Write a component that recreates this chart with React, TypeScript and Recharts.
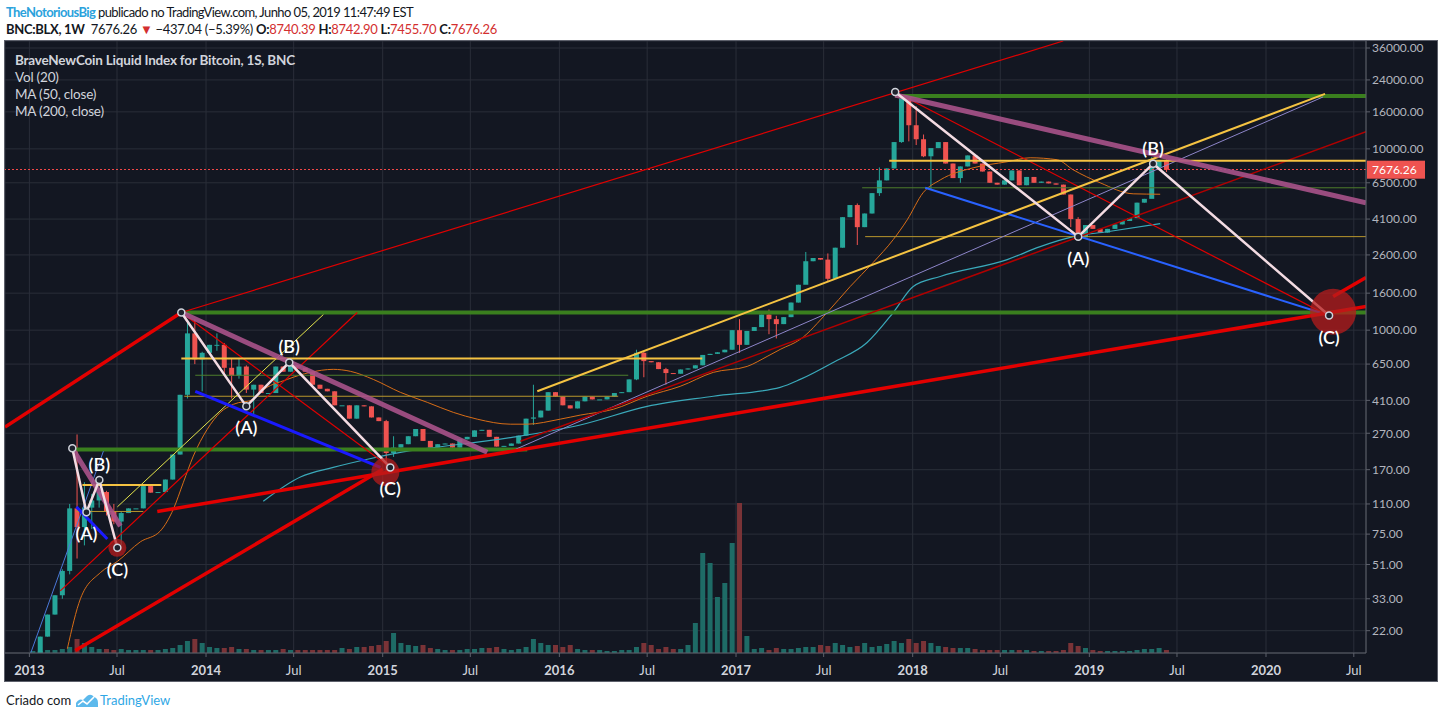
import React from "react";
import {
  ComposedChart,
  Bar,
  Line,
  XAxis,
  YAxis,
  CartesianGrid,
  ReferenceLine,
  ReferenceDot,
} from "recharts";

// BNC:BLX, two candles per month (1st and 16th)
const firstOpen = 13.5;
const close2013 = [15, 20.4, 27, 34.5, 47, 104, 82, 105, 115, 128, 100, 88, 98, 104, 104, 138, 127, 128, 150, 206, 440, 960, 690, 750];
const close2014 = [830, 830, 620, 560, 630, 470, 500, 450, 450, 630, 590, 640, 620, 590, 500, 475, 460, 385, 385, 325, 385, 380, 330, 315];
const close2015 = [210, 225, 235, 260, 285, 245, 225, 235, 237, 225, 250, 258, 280, 282, 258, 228, 230, 237, 262, 325, 330, 360, 455, 430];
const close2016 = [385, 370, 405, 430, 415, 415, 430, 450, 455, 535, 750, 675, 665, 610, 580, 575, 607, 615, 640, 730, 740, 755, 780, 1000];
const close2017 = [830, 990, 1040, 1220, 1150, 1080, 1180, 1420, 1780, 2400, 2500, 2450, 1920, 2850, 4200, 4900, 3700, 4400, 5700, 6700, 7800, 10900, 19000, 13500];
const close2018 = [11300, 9100, 10100, 10900, 8300, 6900, 8000, 9200, 8300, 7500, 6500, 6350, 6700, 7600, 6300, 7000, 6500, 6600, 6450, 6350, 5600, 4100, 3250, 3800];
const close2019 = [3620, 3450, 3620, 3830, 4000, 4150, 5050, 5300, 7900, 8600, 7676.26];

// [candle index, low, high] for the wicks that stick out
const wicks = [
  [4, 33, 48], [5, 45, 110], [6, 55, 266], [7, 65, 145], [8, 80, 125], [9, 105, 135], [10, 95, 130],
  [11, 85, 110], [12, 65, 100], [21, 420, 1100], [22, 650, 1150], [23, 460, 760],
  [25, 770, 960], [26, 560, 850], [27, 420, 700], [28, 540, 700], [29, 450, 640], [30, 340, 500],
  [48, 165, 320], [49, 200, 260], [68, 300, 500],
  [82, 530, 780], [83, 550, 760], [86, 500, 620],
  [96, 750, 1150], [100, 950, 1300], [101, 900, 1200], [105, 1800, 2700], [108, 1850, 2650],
  [112, 2950, 5000], [115, 5500, 7900], [118, 10800, 19800], [119, 11000, 19000],
  [120, 10500, 17200], [121, 9000, 12000], [122, 6000, 9500], [126, 6500, 8000],
  [141, 3700, 5600], [142, 3150, 4200], [152, 7400, 9000], [154, 7455.7, 8742.9],
];

const vol2013 = [1, 1, 1.5, 1.5, 2, 3, 7, 5, 3, 2, 2, 1.5, 2, 1.5, 1.5, 1.5, 1.5, 1.5, 2, 2.5, 4, 6, 7, 5];
const vol2014 = [3, 2.5, 2.5, 3, 2, 2, 1.5, 1.5, 1.5, 1.5, 2, 1.5, 1.5, 1.5, 1.5, 1.5, 1.5, 1.5, 2.5, 2, 3, 3, 3.5, 4];
const vol2015 = [6, 10, 5, 4, 3.5, 4, 2.5, 2, 1.5, 1.5, 1.5, 2, 2, 2.5, 2.5, 3, 2, 1.5, 2, 3, 7, 5, 4, 4];
const vol2016 = [3, 4, 2, 1.5, 1.5, 1.5, 1, 1, 1.5, 1.5, 3, 5, 4, 2, 3, 2, 2, 4, 15, 50, 45, 28, 35, 55];
const vol2017 = [75, 8.5, 2, 2.5, 1.5, 2.5, 2, 2, 2.5, 3, 3, 4, 3.5, 5, 4, 3, 3.5, 5, 3, 3.5, 4.5, 6, 5, 7];
const vol2018 = [5, 6, 5, 3.5, 3, 2.5, 2.5, 2.5, 2, 1.5, 1.5, 1.5, 1.5, 1.5, 1.5, 1.5, 1, 1, 1, 1, 1.5, 5, 3.5, 2.5];
const vol2019 = [1.5, 1, 1, 1, 1, 1, 1.5, 2, 2, 2.5, 1.5];

const closes = [...close2013, ...close2014, ...close2015, ...close2016, ...close2017, ...close2018, ...close2019];
const volumes = [...vol2013, ...vol2014, ...vol2015, ...vol2016, ...vol2017, ...vol2018, ...vol2019];

const candles = closes.map((c, i) => {
  const open = i === 0 ? firstOpen : closes[i - 1];
  const body = [Math.min(open, c), Math.max(open, c)];
  const w = wicks.find((k) => k[0] === i);
  return {
    t: 2013 + Math.floor(i / 24) + ((i % 24) + 0.5) / 24,
    open,
    close: c,
    body,
    wick: w ? [w[1], w[2]] : body,
    up: c >= open,
    vol: volumes[i],
  };
});
const lastClose = closes[closes.length - 1];

const T_MIN = 2012.862;
const T_MAX = 2020.566;
const P_MIN = 16.57;
const P_MAX = 39350;

const priceTicks = [22, 33, 51, 75, 110, 170, 270, 410, 650, 1000, 1600, 2600, 4100, 6500, 10000, 16000, 24000, 36000];
const timeTicks = [2013, 2013.496, 2014, 2014.496, 2015, 2015.496, 2016, 2016.497, 2017, 2017.496, 2018, 2018.496, 2019, 2019.496, 2020, 2020.497];

// moving averages (t, price)
const ma50 = [
  [2013.215, 17.5], [2013.289, 33], [2013.402, 46], [2013.498, 53], [2013.628, 68], [2013.741, 78],
  [2013.815, 103], [2013.872, 145], [2013.928, 202], [2014.007, 284], [2014.081, 352], [2014.155, 390],
  [2014.268, 415], [2014.307, 454], [2014.46, 535], [2014.59, 585], [2014.72, 608], [2014.817, 593],
  [2014.947, 535], [2015.1, 454], [2015.252, 400], [2015.4, 352], [2015.535, 323], [2015.722, 303],
  [2015.818, 303], [2016.005, 323], [2016.118, 340], [2016.305, 366], [2016.497, 432], [2016.684, 490],
  [2016.871, 585], [2017.063, 631], [2017.176, 716], [2017.25, 783], [2017.363, 889], [2017.516, 1251],
  [2017.646, 1740], [2017.776, 2360], [2017.89, 3160], [2017.969, 4060], [2018.059, 5730], [2018.156, 6740],
  [2018.342, 7860], [2018.535, 8490], [2018.665, 8930], [2018.818, 8710], [2018.908, 7670], [2019.061, 6500],
  [2019.248, 5650], [2019.401, 5620],
].map(([t, p]) => ({ t, p }));

const ma200 = [
  [2014.324, 114], [2014.534, 155], [2014.72, 175], [2014.913, 194], [2015.1, 212], [2015.213, 220],
  [2015.739, 257], [2016.118, 300], [2016.497, 380], [2016.871, 432], [2017.25, 484], [2017.363, 535],
  [2017.55, 664], [2017.742, 855], [2017.89, 1251], [2018.003, 1740], [2018.156, 1978], [2018.535, 2450],
  [2018.722, 2890], [2018.908, 3280], [2019.101, 3490], [2019.401, 3870],
].map(([t, p]) => ({ t, p }));

// ABC waves
const wave2013 = [[2013.243, 223], [2013.323, 99], [2013.396, 149], [2013.498, 63]].map(([t, p]) => ({ t, p }));
const wave2014 = [[2013.86, 1251], [2014.228, 380], [2014.471, 664], [2015.043, 175]].map(([t, p]) => ({ t, p }));
const wave2018 = [[2017.901, 20600], [2018.937, 3280], [2019.361, 8280], [2020.357, 1204]].map(([t, p]) => ({ t, p }));
const waveNames = ["(A)", "(B)", "(C)"];

const targets = [
  { t: 2013.498, p: 63, r: 9 },
  { t: 2015.015, p: 165, r: 14 },
  { t: 2020.38, p: 1265, r: 23 },
];

// trend lines [t1, p1, t2, p2]
const redThick = [
  [2012.862, 292, 2013.86, 1251],
  [2013.26, 17.1, 2015.0, 171],
  [2013.724, 100, 2020.566, 1352],
  [2020.38, 1535, 2020.566, 1950],
];
const redThin = [
  [2013.86, 1251, 2018.852, 39350],
  [2013.175, 36.5, 2014.856, 1251],
  [2013.86, 1251, 2015.043, 175],
  [2017.901, 20600, 2020.363, 1189],
];
const darkRed = [[2015.779, 244, 2020.566, 12420]];
const lavender = [[2015.751, 220, 2020.323, 19340]];
const greenThick = [
  [2013.86, 1251, 2020.566, 1251],
  [2013.243, 220, 2015.818, 220],
  [2017.901, 19590, 2020.566, 19590],
];
const greenThin = [
  [2013.939, 564, 2016.39, 564],
  [2017.714, 6100, 2020.566, 6100],
];
const yellowThick = [
  [2013.86, 698, 2016.809, 698],
  [2017.867, 8590, 2020.566, 8590],
  [2013.3, 140, 2013.747, 140],
  [2015.875, 460, 2020.334, 20100],
];
const oliveThin = [
  [2013.266, 100, 2013.645, 100],
  [2013.877, 432, 2016.333, 432],
  [2017.731, 3280, 2020.566, 3280],
];
const yellowThin = [[2013.498, 106, 2014.664, 1219]];
const mauve = [
  [2013.86, 1251, 2015.592, 212],
  [2013.243, 223, 2013.515, 83],
  [2017.901, 19830, 2020.566, 5040],
];
const blueThick = [
  [2013.266, 106, 2013.441, 70.5],
  [2013.939, 460, 2014.987, 175],
];
const blueMid = [[2018.071, 6100, 2020.306, 1251]];
const blueThin = [[2013.006, 16.4, 2013.419, 215]];

const UP = "#26a69a";
const DOWN = "#ef5350";
const FONT = "Lato, 'Open Sans', sans-serif";

const CandleShape = (props: any) => {
  const { x, y, width, height, payload } = props;
  if (x == null || y == null || isNaN(x) || isNaN(y)) return <g />;
  const h = Math.max(1, Math.abs(height || 0));
  const top = height < 0 ? y + height : y;
  return <rect x={x} y={top} width={width || 5} height={h} fill={payload.up ? UP : DOWN} />;
};

const WickShape = (props: any) => {
  const { x, y, width, height, payload } = props;
  if (x == null || y == null || isNaN(x) || isNaN(y)) return <g />;
  const h = Math.abs(height || 0);
  const top = height < 0 ? y + height : y;
  return <rect x={x + (width || 1) / 2 - 0.5} y={top} width={1} height={h} fill={payload.up ? UP : DOWN} />;
};

const VolumeShape = (props: any) => {
  const { x, y, width, height, payload } = props;
  return <rect x={x} y={y} width={width} height={Math.max(0, height)} fill={payload.up ? "#1e6b66" : "#7a3337"} />;
};

const TimeTick = (props: any) => {
  const { x, y, payload } = props;
  const v = payload.value;
  const isYear = Math.abs(v - Math.round(v)) < 0.01;
  return (
    <text x={x} y={y + 11} textAnchor="middle" dominantBaseline="central" fill="#d1d4dc" fontSize={13} fontWeight={isYear ? 700 : 400} fontFamily={FONT}>
      {isYear ? Math.round(v) : "Jul"}
    </text>
  );
};

const PriceTag = (props: any) => {
  const { viewBox } = props;
  const x = viewBox.x + viewBox.width;
  const y = viewBox.y;
  return (
    <g>
      <rect x={x + 1} y={y - 9} width={58} height={18} fill="#ef5350" />
      <text x={x + 6} y={y} dominantBaseline="central" fill="#ffffff" fontSize={12} fontFamily={FONT}>
        {lastClose.toFixed(2)}
      </text>
    </g>
  );
};

const seg = (list: number[][], stroke: string, width: number, key: string, opacity = 1) =>
  list.map((s, i) => (
    <ReferenceLine
      key={key + i}
      segment={[{ x: s[0], y: s[1] }, { x: s[2], y: s[3] }]}
      stroke={stroke}
      strokeWidth={width}
      strokeOpacity={opacity}
      ifOverflow="hidden"
    />
  ));

const waveLine = (data: any[], key: string) => (
  <Line
    key={key}
    data={data}
    dataKey="p"
    type="linear"
    stroke="#f3dbe2"
    strokeWidth={2.5}
    dot={{ r: 3.5, fill: "#1e222d", stroke: "#d1d4dc", strokeWidth: 1.5 }}
    isAnimationActive={false}
  />
);

const waveLabels = (data: any[], key: string) =>
  data.slice(1).map((d, i) => (
    <ReferenceDot
      key={key + i}
      x={d.t}
      y={d.p}
      r={1}
      shape={(p: any) => (
        <text
          x={p.cx}
          y={p.cy + (i === 1 ? -16 : 21)}
          textAnchor="middle"
          dominantBaseline="central"
          fill="#ffffff"
          fontSize={18}
          fontWeight={600}
          fontFamily={FONT}
        >
          {waveNames[i]}
        </text>
      )}
    />
  ));

const red = { color: "#d32f2f" };

export default function App() {
  return (
    <div style={{ position: "absolute", left: 0, top: 0, width: 1444, height: 719, background: "#ffffff", fontFamily: FONT }}>
      <div style={{ position: "absolute", left: 6, top: 4, fontSize: 13, color: "#131722", whiteSpace: "nowrap", letterSpacing: -0.6 }}>
        <span style={{ color: "#2ba2dc", fontWeight: 700 }}>TheNotoriousBig</span> publicado no TradingView.com, Junho 05, 2019 11:47:49 EST
      </div>
      <div style={{ position: "absolute", left: 6, top: 21, fontSize: 13, color: "#131722", whiteSpace: "nowrap", letterSpacing: -0.3 }}>
        <b>BNC:BLX, 1W</b>&nbsp; 7676.26 <span style={red}>▼</span> −437.04 (−5.39%) <b>O:</b>
        <span style={red}>8740.39</span> <b>H:</b>
        <span style={red}>8742.90</span> <b>L:</b>
        <span style={red}>7455.70</span> <b>C:</b>
        <span style={red}>7676.26</span>
      </div>

      <div style={{ position: "absolute", left: 4, top: 40, width: 1432, height: 640, border: "1px solid #5d606b", background: "#131722" }}>
        <ComposedChart width={1432} height={640} data={candles} margin={{ top: 0, right: 0, bottom: 0, left: 0 }}>
          <CartesianGrid stroke="#2a2e39" />
          <XAxis
            dataKey="t"
            type="number"
            domain={[T_MIN, T_MAX]}
            allowDataOverflow
            ticks={timeTicks}
            interval={0}
            height={28}
            stroke="#5d606b"
            tickSize={4}
            tick={<TimeTick />}
          />
          <XAxis xAxisId="v" dataKey="t" type="number" domain={[T_MIN, T_MAX]} allowDataOverflow hide />
          <XAxis xAxisId="c" dataKey="t" type="number" domain={[T_MIN, T_MAX]} allowDataOverflow hide />
          <XAxis xAxisId="w" dataKey="t" type="number" domain={[T_MIN, T_MAX]} allowDataOverflow hide />
          <YAxis
            orientation="right"
            scale="log"
            domain={[P_MIN, P_MAX]}
            allowDataOverflow
            ticks={priceTicks}
            interval={0}
            width={71}
            stroke="#5d606b"
            tickSize={4}
            tick={{ fill: "#b2b5be", fontSize: 12, fontFamily: FONT }}
            tickFormatter={(v: number) => v.toFixed(2)}
          />
          <YAxis yAxisId="vol" hide domain={[0, 306]} />

          <Bar dataKey="vol" xAxisId="v" yAxisId="vol" barSize={5} shape={<VolumeShape />} isAnimationActive={false} />
          <Bar dataKey="wick" xAxisId="w" barSize={5} shape={<WickShape />} isAnimationActive={false} />
          <Bar dataKey="body" xAxisId="c" barSize={5} shape={<CandleShape />} isAnimationActive={false} />

          <Line data={ma50} dataKey="p" type="monotone" stroke="#d86d16" strokeWidth={1} dot={false} isAnimationActive={false} />
          <Line data={ma200} dataKey="p" type="monotone" stroke="#3aa9ba" strokeWidth={1.2} dot={false} isAnimationActive={false} />

          <ReferenceLine
            y={lastClose}
            stroke="#f04848"
            strokeWidth={1}
            strokeDasharray="2 2"
            shapeRendering="crispEdges"
            label={PriceTag}
          />

          {seg(greenThick, "#3a7f1e", 4, "gk")}
          {seg(greenThin, "#4e7e2c", 1, "gn")}
          {seg(oliveThin, "#b8962c", 1, "ol")}
          {seg(yellowThin, "#e3e34b", 1, "yn")}
          {seg(lavender, "#8d85c9", 1, "lv")}
          {seg(darkRed, "#b00000", 1.5, "dr")}
          {seg(redThin, "#e00000", 1.2, "rn")}
          {seg(blueMid, "#2962ff", 2, "bm")}
          {seg(blueThin, "#4a78d8", 1, "bt")}
          {seg(yellowThick, "#f5c342", 2, "yk")}
          {seg(mauve, "#a9528a", 5, "mv", 0.9)}
          {seg(blueThick, "#1a1aff", 3, "bk")}
          {seg(redThick, "#e30000", 3.5, "rk")}

          {targets.map((c, i) => (
            <ReferenceDot key={"tg" + i} x={c.t} y={c.p} r={c.r} fill="#b71c1c" fillOpacity={0.75} stroke="none" />
          ))}

          {waveLine(wave2013, "w13")}
          {waveLine(wave2014, "w14")}
          {waveLine(wave2018, "w18")}
          {waveLabels(wave2013, "l13")}
          {waveLabels(wave2014, "l14")}
          {waveLabels(wave2018, "l18")}
        </ComposedChart>

        <div style={{ position: "absolute", left: 10, top: 11, color: "#d1d4dc", fontSize: 13.5, lineHeight: "17px", letterSpacing: -0.2, pointerEvents: "none" }}>
          <div style={{ fontWeight: 700 }}>BraveNewCoin Liquid Index for Bitcoin, 1S, BNC</div>
          <div>Vol (20)</div>
          <div>MA (50, close)</div>
          <div>MA (200, close)</div>
        </div>
      </div>

      <div style={{ position: "absolute", left: 6, top: 692, fontSize: 13, color: "#131722", whiteSpace: "nowrap", display: "flex", alignItems: "center" }}>
        <span>Criado com</span>
        <svg width={24} height={16} style={{ margin: "0 1px 0 4px" }}>
          <path d="M1 15 L1 11 Q4 6 8 8 L12 4 Q16 1 19 5 Q23 6 23 11 L23 15 Z" fill="#5cb9ec" />
          <path d="M3 13 L8 9 L12 12 L19 5" stroke="#ffffff" strokeWidth={1.6} fill="none" />
        </svg>
        <span style={{ color: "#2fa7e5" }}>TradingView</span>
      </div>
    </div>
  );
}
